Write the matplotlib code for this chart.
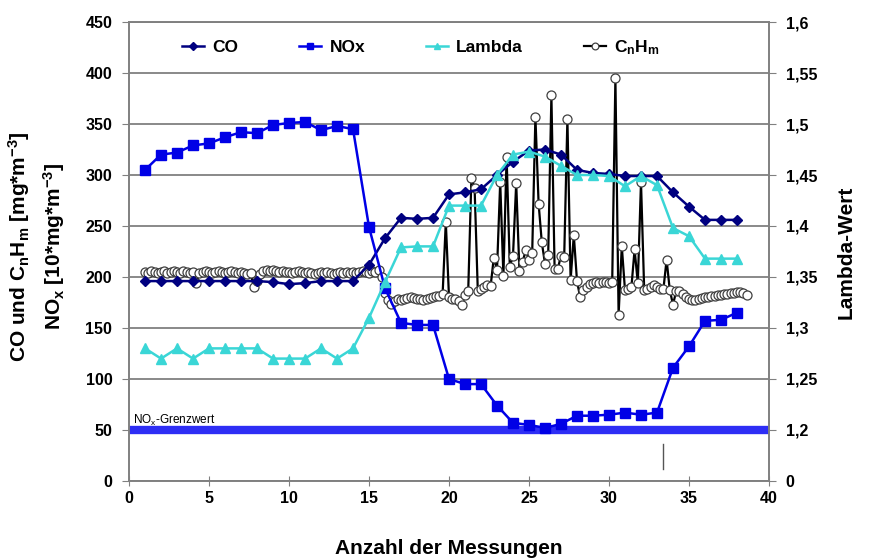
import matplotlib.pyplot as plt
import numpy as np

plt.rcParams['font.family'] = ['Liberation Sans', 'DejaVu Sans']
plt.rcParams['font.weight'] = 'bold'
plt.rcParams['mathtext.default'] = 'regular'

# one point per measurement
measurement = np.arange(1, 39)
co = [196, 196, 196, 196, 196, 196, 196, 196, 195, 193, 194, 196, 196, 196,
      212, 238, 258, 257, 258, 281, 283, 286, 300, 313, 324, 325, 320, 305,
      302, 301, 299, 299, 299, 283, 269, 256, 256, 256]
nox = [305, 320, 322, 329, 331, 337, 342, 341, 349, 351, 352, 344, 348, 345,
       249, 189, 155, 153, 153, 100, 95, 95, 74, 57, 55, 52, 56, 64,
       64, 65, 67, 65, 67, 111, 132, 157, 158, 165]
lam = [1.28, 1.27, 1.28, 1.27, 1.28, 1.28, 1.28, 1.28, 1.27, 1.27, 1.27, 1.28, 1.27, 1.28,
       1.31, 1.345, 1.379, 1.38, 1.38, 1.42, 1.42, 1.42, 1.45, 1.47, 1.473, 1.468, 1.459, 1.45,
       1.45, 1.449, 1.439, 1.449, 1.44, 1.398, 1.39, 1.368, 1.368, 1.368]

# CnHm is logged 5 times per measurement (one row = one measurement)
cnhm = [
    205, 204, 206, 205, 204,   # 1
    205, 206, 204, 205, 206,   # 2
    205, 204, 206, 205, 204,   # 3
    205, 194, 204, 205, 206,   # 4
    205, 204, 205, 206, 205,   # 5
    204, 205, 206, 205, 204,   # 6
    205, 204, 203, 204, 190,   # 7
    196, 203, 206, 207, 206,   # 8
    207, 206, 205, 206, 205,   # 9
    205, 204, 205, 206, 205,   # 10
    204, 205, 204, 203, 204,   # 11
    205, 204, 205, 204, 203,   # 12
    204, 205, 204, 205, 204,   # 13
    205, 204, 205, 206, 205,   # 14
    204, 206, 205, 207, 200,   # 15
    184, 177, 174, 176, 178,   # 16
    177, 178, 179, 180, 179,   # 17
    178, 178, 177, 178, 179,   # 18
    180, 181, 181, 183, 254,   # 19
    180, 178, 178, 176, 173,   # 20
    182, 186, 297, 287, 186,   # 21
    188, 190, 192, 191, 219,   # 22
    207, 293, 201, 318, 210,   # 23
    221, 292, 206, 215, 226,   # 24
    217, 224, 357, 272, 234,   # 25
    213, 222, 378, 208, 208,   # 26
    221, 220, 355, 197, 241,   # 27
    196, 180, 187, 190, 193,   # 28
    194, 195, 194, 195, 195,   # 29
    194, 195, 395, 163, 230,   # 30
    187, 188, 190, 227, 194,   # 31
    293, 187, 188, 190, 192,   # 32
    190, 188, 188, 217, 187,   # 33
    173, 186, 186, 183, 180,   # 34
    178, 177, 177, 178, 179,   # 35
    180, 180, 181, 181, 182,   # 36
    182, 183, 183, 184, 184,   # 37
    185, 185, 184, 182,        # 38
]
cnhm_x = 1.0 + 0.2 * np.arange(len(cnhm))

nox_limit = 50
lam_ticks = [1.15, 1.2, 1.25, 1.3, 1.35, 1.4, 1.45, 1.5, 1.55, 1.6]
lam_ticklabels = ['0', '1,2', '1,25', '1,3', '1,35', '1,4', '1,45', '1,5', '1,55', '1,6']
mark_x, mark_lo, mark_hi = 33.4, 12, 36

fig, ax = plt.subplots(figsize=(8.7, 5.6), dpi=100)
fig.subplots_adjust(left=0.1483, right=0.8839, bottom=0.1411, top=0.9607)

ax.set_xlim(0, 40)
ax.set_ylim(0, 450)
ax.set_xticks(np.arange(0, 41, 5))
ax.set_yticks(np.arange(0, 451, 50))
ax.grid(axis='y', color='#808080', lw=1.3)
ax.set_axisbelow(True)

ax.axhline(nox_limit, color='#2e2ef5', lw=6, zorder=2)
ax.text(0.25, nox_limit + 6, 'NO$_x$-Grenzwert', fontsize=8.5, fontweight='normal')
ax.plot([mark_x, mark_x], [mark_lo, mark_hi], color='#555555', lw=1)

l_cnhm, = ax.plot(cnhm_x, cnhm, color='black', lw=1.6, marker='o', ms=6.5,
                  mfc='white', mec='#404040', mew=0.9, zorder=3, label='C$_n$H$_m$')
l_co, = ax.plot(measurement, co, color='#000080', lw=1.8, marker='D', ms=5,
                zorder=4, label='CO')
l_nox, = ax.plot(measurement, nox, color='#0000e6', lw=1.8, marker='s', ms=6.5,
                 zorder=4, label='NOx')

ax2 = ax.twinx()
ax2.set_ylim(1.15, 1.6)
l_lam, = ax2.plot(measurement, lam, color='#3ad6d6', lw=1.8, marker='^', ms=6.5,
                  label='Lambda')
ax2.set_yticks(lam_ticks)
ax2.set_yticklabels(lam_ticklabels)

for a in (ax, ax2):
    for s in a.spines.values():
        s.set_color('#808080')
        s.set_linewidth(1.2)
ax.tick_params(axis='x', direction='inout', length=7, color='#808080', labelsize=11.5, pad=4)
ax.tick_params(axis='y', direction='out', length=5, color='#808080', labelsize=11.5, pad=7)
ax2.tick_params(axis='y', direction='out', length=5, color='#808080', labelsize=11.5, pad=7)

ax2.legend([l_co, l_nox, l_lam, l_cnhm], ['CO', 'NOx', 'Lambda', 'C$_n$H$_m$'],
           loc='center', bbox_to_anchor=(0.456, 0.945), ncol=4, frameon=False,
           fontsize=12.5, handlelength=1.25, handletextpad=0.5, columnspacing=3.5,
           markerscale=0.75)

fig.text(0.516, 0.02, 'Anzahl der Messungen', ha='center', va='center', fontsize=15)
fig.text(0.042, 0.56, 'CO und C$_n$H$_m$ [mg*m$^{-3}$]\nNO$_x$ [10*mg*m$^{-3}$]',
         ha='center', va='center', rotation=90, fontsize=15, linespacing=1.5)
fig.text(0.972, 0.55, 'Lambda-Wert', ha='center', va='center', rotation=90, fontsize=15)

plt.savefig('out.png')
